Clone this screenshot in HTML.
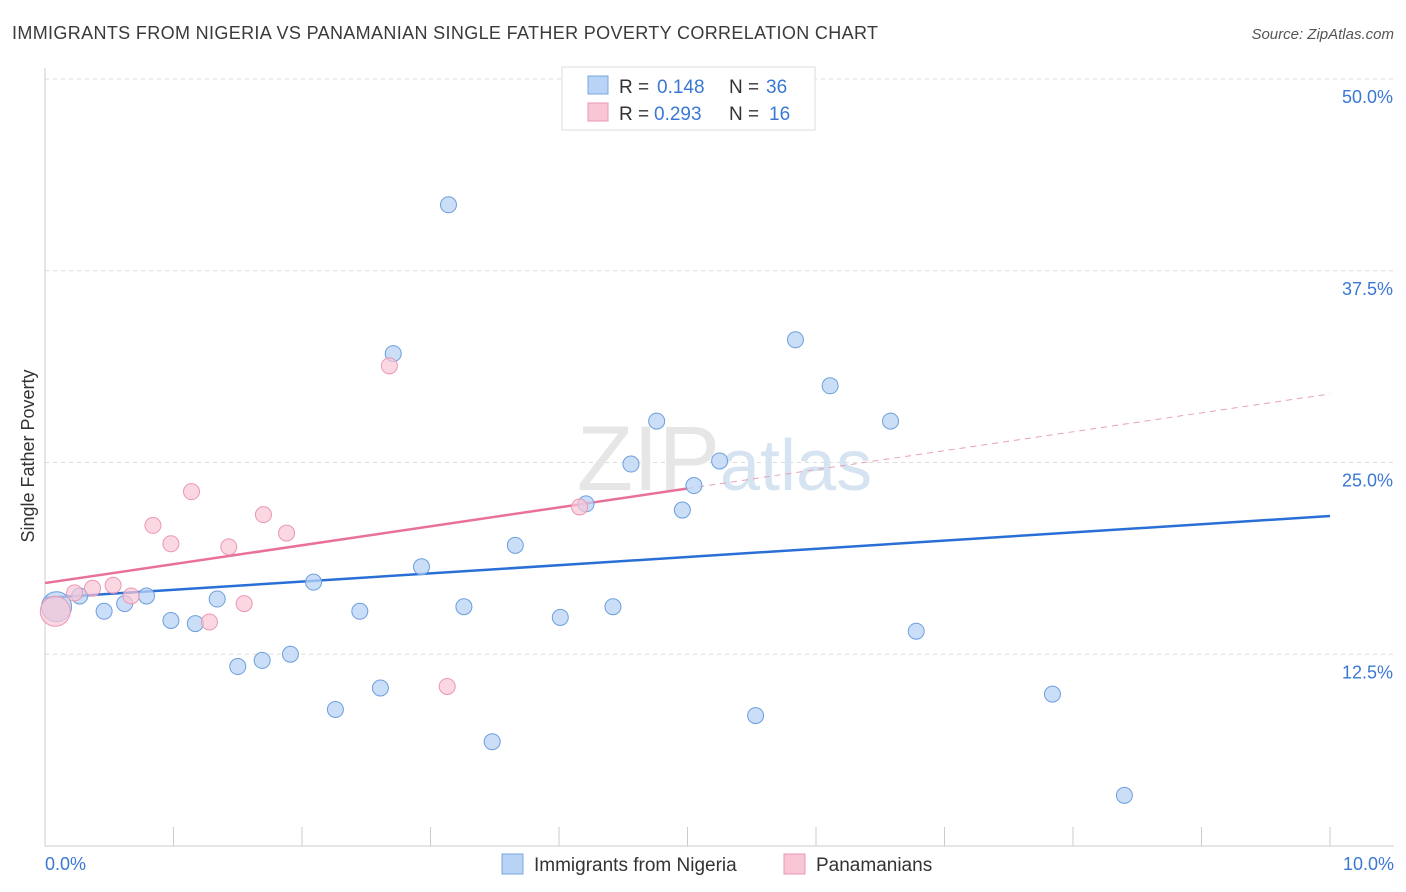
<!DOCTYPE html>
<html><head><meta charset="utf-8">
<style>
body{margin:0;background:#fff;font-family:"Liberation Sans",sans-serif;}
#wrap{position:relative;width:1406px;height:892px;overflow:hidden;}
svg text{font-family:"Liberation Sans",sans-serif;}
</style></head>
<body>
<div id="wrap">
<svg id="chart" width="1406" height="892">
<text x="12" y="39" font-size="18" fill="#3a3a3a" textLength="866">IMMIGRANTS FROM NIGERIA VS PANAMANIAN SINGLE FATHER POVERTY CORRELATION CHART</text>
<text x="1394" y="39" font-size="15" fill="#555" font-style="italic" text-anchor="end">Source: ZipAtlas.com</text>
<text x="34" y="456" font-size="18" fill="#333" transform="rotate(-90 34 456)" text-anchor="middle">Single Father Poverty</text>
<g id="grid"></g>
<text x="720" y="490" font-size="92" fill="#e6e6e6" text-anchor="end" font-family="Liberation Serif">ZIP</text>
<text x="720" y="490" font-size="72" fill="#d6e4f2">atlas</text>
<g id="lines"></g>
<g id="points"></g>
<g>
<rect x="562" y="67" width="253" height="63" fill="#fff" stroke="#ddd"/>
<rect x="588" y="76" width="20" height="18" fill="#b8d3f5" stroke="#7aa7e0"/>
<rect x="588" y="103" width="20" height="18" fill="#f9c6d6" stroke="#eb97b3"/>
<text x="619" y="93" font-size="19" fill="#333">R =</text>
<text x="657" y="93" font-size="19" fill="#3a78d4">0.148</text>
<text x="729" y="93" font-size="19" fill="#333">N =</text>
<text x="766" y="93" font-size="19" fill="#3a78d4">36</text>
<text x="619" y="120" font-size="19" fill="#333">R =</text>
<text x="654" y="120" font-size="19" fill="#3a78d4">0.293</text>
<text x="729" y="120" font-size="19" fill="#333">N =</text>
<text x="769" y="120" font-size="19" fill="#3a78d4">16</text>
</g>
<g>
<rect x="502" y="854" width="21" height="20" fill="#b8d3f5" stroke="#7aa7e0"/>
<text x="534" y="871" font-size="19" fill="#333">Immigrants from Nigeria</text>
<rect x="784" y="854" width="21" height="20" fill="#f9c6d6" stroke="#eb97b3"/>
<text x="816" y="871" font-size="19" fill="#333">Panamanians</text>
</g>
</svg>
</div>
<script>
const xTickLabels=["0.0%","10.0%"];
const yTicks=[12.5,25,37.5,50];
const yTickLabels=["12.5%","25.0%","37.5%","50.0%"];
const nigeriaX=[0.09,0.27,0.46,0.62,0.79,0.98,1.17,1.34,1.50,1.69,1.91,2.09,2.26,2.45,2.61,2.71,2.93,3.14,3.26,3.48,3.66,4.01,4.21,4.42,4.56,4.76,4.96,5.05,5.25,5.53,5.84,6.11,6.58,6.78,7.84,8.40];
const nigeriaY=[15.6,16.3,15.3,15.8,16.3,14.7,14.5,16.1,11.7,12.1,12.5,17.2,8.9,15.3,10.3,32.1,18.2,41.8,15.6,6.8,19.6,14.9,22.3,15.6,24.9,27.7,21.9,23.5,25.1,8.5,33.0,30.0,27.7,14.0,9.9,3.3];
const panX=[0.08,0.23,0.37,0.53,0.67,0.84,0.98,1.14,1.28,1.43,1.55,1.70,1.88,2.68,3.13,4.16];
const panY=[15.3,16.5,16.8,17.0,16.3,20.9,19.7,23.1,14.6,19.5,15.8,21.6,20.4,31.3,10.4,22.1];
const nigeriaTrend=[16.17,21.51];
const panTrend=[17.14,29.47];
const NS="http://www.w3.org/2000/svg";
const X0=45,X1=1330,YB=846,YT=79;
const sx=v=>X0+(X1-X0)*v/10;
const sy=v=>YB-(YB-YT)*v/50;
function mk(tag,attrs,parent){const e=document.createElementNS(NS,tag);for(const k in attrs)e.setAttribute(k,attrs[k]);parent.appendChild(e);return e;}
const grid=document.getElementById('grid');
yTicks.forEach((t,i)=>{
  const l=mk('line',{x1:45,x2:1394,y1:sy(t),y2:sy(t),stroke:'#ddd','stroke-dasharray':'4,4'},grid);
  
  
  const tx=mk('text',{x:1393,y:sy(t)+24,'font-size':18,fill:'#3a78d4','text-anchor':'end'},grid);
  tx.textContent=yTickLabels[i];
  
  
});
const ax=mk('line',{x1:45,x2:1394,y1:846,y2:846,stroke:'#ccc'},grid);


const ay=mk('line',{x1:45,x2:45,y1:68,y2:846,stroke:'#ccc'},grid);


for(let i=0;i<=10;i++){
  const t=mk('line',{x1:45+i*128.5,x2:45+i*128.5,y1:827,y2:846,stroke:'#ccc'},grid);
  
  
}
[[0,'start',45],[10,'end',1394]].forEach((d,i)=>{
  const tx=mk('text',{x:d[2],y:870,'font-size':18,fill:'#3a78d4','text-anchor':d[1]},grid);
  tx.textContent=xTickLabels[i];
  
  
});
const lines=document.getElementById('lines');
const bl=mk('line',{x1:sx(0),y1:sy(nigeriaTrend[0]),x2:sx(10),y2:sy(nigeriaTrend[1]),stroke:'#2a6fd6','stroke-width':2.5},lines);


const pm=panTrend[0]+(panTrend[1]-panTrend[0])*0.5;
const pl=mk('line',{x1:sx(0),y1:sy(panTrend[0]),x2:sx(5),y2:sy(pm),stroke:'#e8709a','stroke-width':2.5},lines);


const pd=mk('line',{x1:sx(5),y1:sy(pm),x2:sx(10),y2:sy(panTrend[1]),stroke:'#e8a0b8','stroke-width':1,'stroke-dasharray':'6,5'},lines);


const pts=document.getElementById('points');
nigeriaX.forEach((x,i)=>{
  const c=mk('circle',{cx:sx(x),cy:sy(nigeriaY[i]),r:i==0?15:8,fill:'#b8d3f5','fill-opacity':0.75,stroke:'#6d9fdc','stroke-width':1},pts);
  
  
});
panX.forEach((x,i)=>{
  const c=mk('circle',{cx:sx(x),cy:sy(panY[i]),r:i==0?15:8,fill:'#f9c6d6','fill-opacity':0.7,stroke:'#eb97b3','stroke-width':1},pts);
  
  
});
</script>
</body></html>
